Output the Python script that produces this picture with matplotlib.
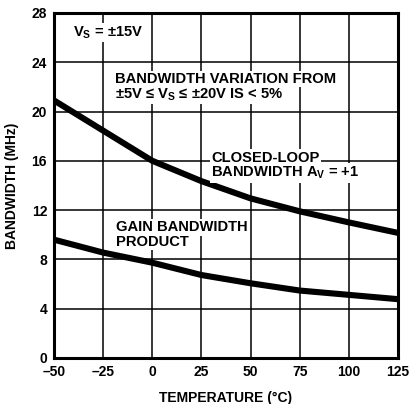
import matplotlib
matplotlib.use('Agg')
import matplotlib.pyplot as plt

plt.rcParams['font.family'] = ['Liberation Sans', 'DejaVu Sans']
plt.rcParams['font.weight'] = 'bold'
plt.rcParams['mathtext.fontset'] = 'dejavusans'
plt.rcParams['axes.unicode_minus'] = True

# values
temp = [-50, -25, 0, 25, 50, 75, 100, 125]
closed_loop = [20.9, 18.45, 16.0, 14.35, 12.95, 11.9, 11.0, 10.15]
gain_bw = [9.6, 8.55, 7.73, 6.73, 6.06, 5.47, 5.12, 4.77]
xticks = [-50, -25, 0, 25, 50, 75, 100, 125]
yticks = [0, 4, 8, 12, 16, 20, 24, 28]

fig = plt.figure(figsize=(4.09, 4.04), dpi=100)
ax = fig.add_axes([0.132, 0.114, 0.841, 0.854])

ax.plot(temp, closed_loop, color='black', lw=4.4, solid_capstyle='butt', zorder=3)
ax.plot(temp, gain_bw, color='black', lw=4.4, solid_capstyle='butt', zorder=3)

ax.set_xlim(-50, 125)
ax.set_ylim(0, 28)
ax.set_xticks(xticks)
ax.set_yticks(yticks)
ax.set_xticklabels(['\u201350', '\u201325'] + [str(t) for t in xticks[2:]])
ax.grid(True, color='black', lw=1.1)
ax.set_axisbelow(True)
ax.tick_params(length=0, labelsize=10, pad=5)
for lab in ax.get_xticklabels() + ax.get_yticklabels():
    lab.set_fontweight('bold')
for sp in ax.spines.values():
    sp.set_linewidth(2.2)

ax.set_xlabel('TEMPERATURE (\u00b0C)', fontsize=10, fontweight='bold', labelpad=9)
ax.set_ylabel('BANDWIDTH (MHz)', fontsize=10, fontweight='bold', labelpad=9)

box = dict(facecolor='white', edgecolor='none', pad=1.0)
tk = dict(fontsize=10.6, fontweight='bold', ha='left', va='center', zorder=4, bbox=box)
sub = dict(fontsize=10.6, fontweight='bold', ha='left', va='center', zorder=4)
ax.text(-40.5, 26.4, 'V$_\\mathregular{S}$ = \u00b115V', **tk)
ax.text(-19, 22.65, 'BANDWIDTH VARIATION FROM', **tk)
ax.text(-19, 21.4, '\u00b15V \u2264 V$_\\mathregular{S}$ \u2264 \u00b120V IS < 5%', **tk)
ax.text(30, 16.25, 'CLOSED-LOOP', **tk)
ax.text(30, 15.0, 'BANDWIDTH A$_\\mathregular{V}$ = +1', **tk)
ax.text(-18.5, 10.6, 'GAIN BANDWIDTH', **tk)
ax.text(-18.5, 9.4, 'PRODUCT', **tk)

fig.savefig('out.png', dpi=100)
